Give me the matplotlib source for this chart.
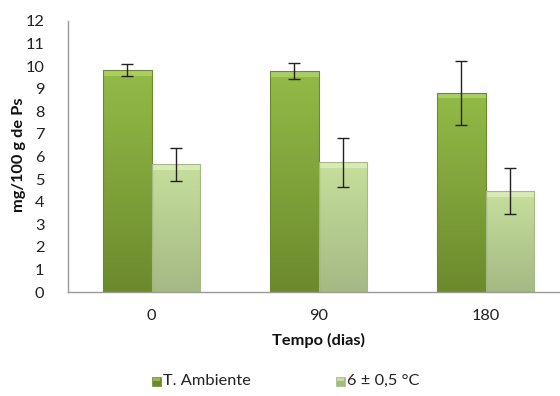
import numpy as np
import matplotlib
matplotlib.use("Agg")
import matplotlib.pyplot as plt
from matplotlib.colors import LinearSegmentedColormap
from matplotlib.patches import Rectangle

plt.rcParams['font.family'] = ['Lato', 'DejaVu Sans']

categories = ['0', '90', '180']
series_names = ['T. Ambiente', '6 ± 0,5 °C']
ambient = [9.83, 9.79, 8.82]
ambient_err = [0.27, 0.36, 1.43]
cold = [5.65, 5.74, 4.47]
cold_err = [0.74, 1.10, 1.03]
y_ticks = list(range(0, 13))

W, H = 560, 396
FS = 11.8
fig = plt.figure(figsize=(W / 100, H / 100), dpi=100)
ax = fig.add_axes([68 / W, 1 - 292 / H, 501 / W, (292 - 21) / H])

x = np.arange(len(categories))
bw = 0.29
dark_top, dark_bot = '#93bb47', '#6c8a2d'
light_top, light_bot = '#c6df9c', '#a4b984'

bars_a = ax.bar(x - bw / 2, ambient, bw, color=dark_bot, edgecolor='#6a8a2c', linewidth=0.6, zorder=2)
bars_b = ax.bar(x + bw / 2, cold, bw, color=light_bot, edgecolor='#9fb07f', linewidth=0.6, zorder=2)

def shade(bars, top, bot, bevel):
    cmap = LinearSegmentedColormap.from_list('g', [bot, top])
    grad = np.linspace(0, 1, 256).reshape(-1, 1)
    for b in bars:
        x0, y0 = b.get_x(), b.get_y()
        w, h = b.get_width(), b.get_height()
        im = ax.imshow(grad, extent=[x0, x0 + w, y0, y0 + h], origin='lower',
                       cmap=cmap, aspect='auto', zorder=2.1)
        im.set_clip_path(b)
        # light bevel strip along the top edge
        ax.add_patch(Rectangle((x0, y0 + h - 0.25), w, 0.25, color=bevel,
                               alpha=0.75, lw=0, zorder=2.2))
        ax.add_patch(Rectangle((x0, y0), w, h, fill=False, ec=bot, lw=0.8, zorder=2.3))

shade(bars_a, dark_top, dark_bot, '#b4d66a')
shade(bars_b, light_top, light_bot, '#e0f0bf')

ax.errorbar(x - bw / 2, ambient, yerr=ambient_err, fmt='none', ecolor='#222222',
            elinewidth=1.0, capsize=4, capthick=1.0, zorder=3)
ax.errorbar(x + bw / 2, cold, yerr=cold_err, fmt='none', ecolor='#222222',
            elinewidth=1.0, capsize=4, capthick=1.0, zorder=3)

ax.set_xlim(-0.5, len(categories) - 0.5)
ax.set_ylim(0, 12)
ax.set_yticks(y_ticks)
ax.set_yticklabels([str(t) for t in y_ticks], fontsize=FS, color='#222222')
ax.set_xticks(x)
ax.set_xticklabels(categories, fontsize=FS, color='#222222')
ax.tick_params(axis='y', length=0, pad=17)
ax.tick_params(axis='x', length=0, pad=12)
for s in ['top', 'right']:
    ax.spines[s].set_visible(False)
for s in ['left', 'bottom']:
    ax.spines[s].set_color('#999999')
    ax.spines[s].set_linewidth(1.0)

fig.text(319 / W, 1 - 340 / H, 'Tempo (dias)', ha='center', va='center',
         fontsize=FS, fontweight='bold', color='#111111')
fig.text(19 / W, 1 - 155 / H, 'mg/100 g de Ps', ha='center', va='center',
         rotation=90, fontsize=FS, fontweight='bold', color='#111111')

# legend
for (lx, name, top, bot) in [(157, series_names[0], dark_top, dark_bot),
                             (341, series_names[1], light_top, light_bot)]:
    fig.patches.append(Rectangle(((lx - 5) / W, 1 - 386 / H), 9 / W, 9 / H,
                                 transform=fig.transFigure, facecolor=bot,
                                 edgecolor=bot, lw=0.5))
    fig.patches.append(Rectangle(((lx - 4) / W, 1 - 381 / H), 7 / W, 3 / H,
                                 transform=fig.transFigure, facecolor=top, lw=0))
    fig.text((lx + 6) / W, 1 - 381 / H, name, ha='left', va='center',
             fontsize=FS, color='#222222')

fig.savefig('out.png', dpi=100)
